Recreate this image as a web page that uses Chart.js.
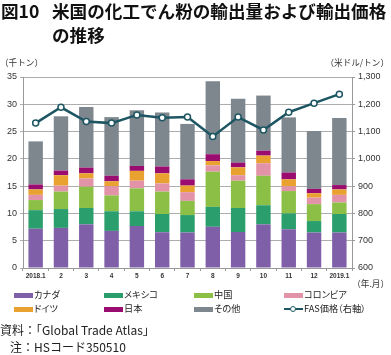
<!DOCTYPE html>
<html><head><meta charset="utf-8">
<script src="https://cdn.jsdelivr.net/npm/chart.js@4"></script>
<style>
body{margin:0;width:391px;height:355px;position:relative;overflow:hidden;background:#fff;font-family:"Noto Sans CJK JP","Noto Sans",sans-serif;color:#222}
canvas{position:absolute;left:0;top:0}
.t{position:absolute;white-space:nowrap;line-height:1;z-index:2}
.title{font-weight:bold;font-size:17.6px;color:#111}
.unit{font-size:8.6px;color:#333}
.lg{position:absolute;font-size:9.2px;line-height:1;white-space:nowrap;z-index:2;color:#222;font-feature-settings:"palt"}
.sw{position:absolute;width:19px;height:5px}
.src{font-size:12px;color:#222}
</style></head><body>
<div class="t title" style="left:1px;top:2px">図10</div>
<div class="t title" style="left:52px;top:2px">米国の化工でん粉の輸出量および輸出価格</div>
<div class="t title" style="left:52px;top:26px">の推移</div>
<div class="t unit" style="left:0px;top:58px">（千トン）</div>
<div class="t unit" style="right:2px;top:58px">（米ドル/トン）</div>
<div class="t unit" style="right:2px;top:279px">（年.月）</div>
<div id="legend"></div>
<div class="t src" style="left:0px;top:324px">資料：「Global Trade Atlas」</div>
<div class="t src" style="left:10px;top:341px">注：HSコード350510</div>
<canvas id="c" width="391" height="355"></canvas>
<script>
const categories = ["2018.1","2","3","4","5","6","7","8","9","10","11","12","2019.1"];
const canada   = [7.2, 7.35, 8.0, 6.8, 7.7, 6.55, 6.5, 7.55, 6.6, 8.0, 7.1, 6.5, 6.5];
const mexico   = [3.4, 3.45, 3.0, 3.6, 2.7, 3.35, 3.2, 3.65, 4.4, 3.5, 2.9, 2.1, 3.4];
const china    = [1.85, 3.2, 3.9, 2.9, 4.2, 4.1, 2.6, 6.45, 5.0, 5.4, 4.1, 3.1, 2.1];
const colombia = [0.95, 1.1, 1.5, 1.7, 1.4, 1.5, 1.6, 1.15, 1.0, 2.3, 0.9, 1.2, 1.4];
const germany  = [1.0, 1.9, 0.95, 0.9, 1.8, 1.85, 1.2, 0.8, 1.45, 1.4, 1.25, 0.8, 1.0];
const japan    = [0.9, 0.85, 1.05, 1.0, 0.9, 1.25, 1.15, 1.25, 0.85, 0.9, 1.25, 0.8, 0.8];
const others   = [7.9, 9.95, 11.1, 10.75, 10.2, 9.9, 10.15, 13.35, 11.7, 10.1, 10.1, 10.6, 12.3];
const fasPrice = [1131, 1189, 1137, 1131, 1161, 1151, 1153, 1082, 1153, 1106, 1171, 1204, 1237];
const leftTicks = [0,5,10,15,20,25,30,35];
const rightTicks = [600,700,800,900,1000,1100,1200,1300];

const seriesNames = ["カナダ","メキシコ","中国","コロンビア","ドイツ","日本","その他"];
const seriesData = [canada, mexico, china, colombia, germany, japan, others];
const colors = ["#7f5fa8","#2a9e6c","#8cbf45","#e293a8","#e9a22f","#9a0c6f","#7e878e"];
const lineColor = "#1d5662";

const datasets = seriesData.map((d,i)=>({
  type:'bar', label:seriesNames[i], data:d, backgroundColor:colors[i],
  yAxisID:'y', stack:'s', barPercentage:0.57, categoryPercentage:1, order:2, borderWidth:0
}));
datasets.push({
  type:'line', label:'FAS価格（右軸）', data:fasPrice, yAxisID:'y1', order:0,
  borderColor:lineColor, borderWidth:2.5, pointRadius:3, pointBackgroundColor:'#fff',
  pointBorderColor:lineColor, pointBorderWidth:1.5, tension:0
});

new Chart(document.getElementById('c'), {
  data:{labels:categories, datasets},
  options:{
    responsive:false, animation:false, devicePixelRatio:1,
    layout:{padding:{top:77,left:0,right:0,bottom:0}},
    plugins:{legend:{display:false}, tooltip:{enabled:false}},
    scales:{
      x:{
        stacked:true, offset:true,
        grid:{display:true, drawOnChartArea:false, offset:true, tickLength:3, color:'#999'},
        border:{color:'#999', width:1},
        ticks:{font:{size:6.5, family:'Liberation Sans', weight:'bold'}, color:'#333', padding:1, maxRotation:0, autoSkip:false},
        afterFit:s=>{s.height=87;}
      },
      y:{
        stacked:true, min:0, max:35, position:'left',
        afterBuildTicks:s=>{s.ticks=leftTicks.map(v=>({value:v}));},
        grid:{color:'#adadad', lineWidth:1, tickLength:3},
        border:{color:'#999', width:1},
        ticks:{font:{size:9, family:'Liberation Sans'}, color:'#333', padding:3},
        afterFit:s=>{s.width=23;}
      },
      y1:{
        min:600, max:1300, position:'right',
        afterBuildTicks:s=>{s.ticks=rightTicks.map(v=>({value:v}));},
        grid:{drawOnChartArea:false, tickLength:3, color:'#999'},
        border:{color:'#999', width:1},
        ticks:{font:{size:9, family:'Liberation Sans'}, color:'#333', padding:3,
          callback:v=>v.toLocaleString('en-US')},
        afterFit:s=>{s.width=39;}
      }
    }
  }
});

// HTML legend
const lg = document.getElementById('legend');
const cols = [14,104,194,284];
const rows = [295,309];
const items = seriesNames.map((n,i)=>({name:n,color:colors[i]}));
items.push({name:'FAS価格（右軸）', line:true});
items.forEach((it,i)=>{
  const x = cols[i%4], y = rows[Math.floor(i/4)];
  if(it.line){
    const d=document.createElement('div');
    d.style.cssText=`position:absolute;left:${x}px;top:${y-1}px;width:19px;height:2px;background:${lineColor};z-index:2`;
    lg.appendChild(d);
    const c=document.createElement('div');
    c.style.cssText=`position:absolute;left:${x+6}px;top:${y-3.5}px;width:4px;height:4px;border:1.5px solid ${lineColor};border-radius:50%;background:#fff;z-index:3`;
    lg.appendChild(c);
  } else {
    const s=document.createElement('div');
    s.className='sw'; s.style.cssText+=`left:${x}px;top:${y-2.5}px;background:${it.color};z-index:2`;
    lg.appendChild(s);
  }
  const t=document.createElement('div');
  t.className='lg'; t.textContent=it.name;
  t.style.left=(x+20)+'px'; t.style.top=(y-5)+'px';
  lg.appendChild(t);
});
</script>
</body></html>
